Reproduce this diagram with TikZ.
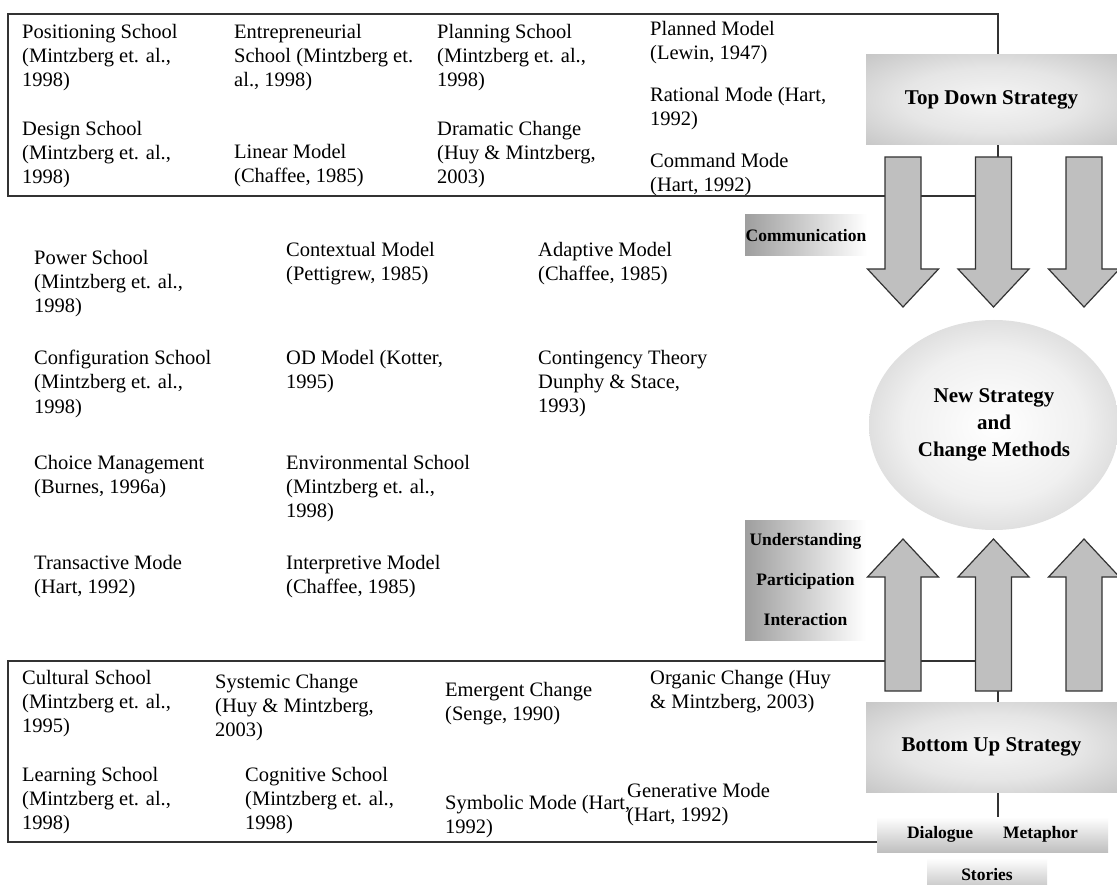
\documentclass[tikz,border=0pt]{standalone}
\usepackage{fontspec}
\setmainfont{Liberation Serif}
\usetikzlibrary{shapes.geometric}

% soft glow: light centre fading to grey at the rim
\pgfdeclareradialshading{boxglow}{\pgfpoint{0bp}{0bp}}{%
  color(0bp)=(black!4); color(18bp)=(black!10); color(50bp)=(black!32); color(72bp)=(black!36)}
\pgfdeclareradialshading{ballglow}{\pgfpoint{0bp}{0bp}}{%
  color(0bp)=(white); color(18bp)=(black!6); color(50bp)=(black!35)}

\begin{document}
\begin{tikzpicture}[x=1pt,y=-1pt,
  frame/.style={draw=black!80, line width=1.3pt},
  txt/.style={anchor=north west, inner sep=0pt, align=left,
    font=\fontsize{20.5}{24.2}\selectfont},
  headbox/.style={shading=boxglow, inner sep=0pt, minimum width=251, minimum height=90,
    font=\fontsize{21}{25}\selectfont\bfseries},
  sidebox/.style={left color=black!38, right color=white, inner sep=0pt, align=center,
    font=\fontsize{17.5}{40}\selectfont\bfseries},
  footbox/.style={top color=white, bottom color=black!25, inner sep=0pt,
    font=\fontsize{17.5}{20}\selectfont\bfseries},
  blockarrow/.style={draw=black!80, line width=1.2pt, fill=black!25, line join=miter},
  pics/downblock/.style={code={
    \draw[blockarrow] (-18,0) -- (18,0) -- (18,112) -- (35.5,112) -- (0,150)
      -- (-35.5,112) -- (-18,112) -- cycle;}},
  pics/upblock/.style={code={
    \draw[blockarrow] (0,0) -- (35.5,38) -- (18,38) -- (18,152) -- (-18,152)
      -- (-18,38) -- (-35.5,38) -- cycle;}}
]
\useasboundingbox (0,0) rectangle (1117,885);
\fill[white] (0,0) rectangle (1117,885);
\clip (0,0) rectangle (1117,885);

% ---- framed groups ----
\draw[frame] (8,14) rectangle (998,196);
\draw[frame] (8,661) rectangle (998,842);

% ---- top-down group ----
\node[txt] (pos) at (22,24) {Positioning School\\(Mintzberg et. al.,\\1998)};
\node[txt] (des) at (22,121) {Design School\\(Mintzberg et. al.,\\1998)};
\node[txt] (ent) at (234,24) {Entrepreneurial\\School (Mintzberg et.\\al., 1998)};
\node[txt] (lin) at (234,144) {Linear Model\\(Chaffee, 1985)};
\node[txt] (pla) at (437,24) {Planning School\\(Mintzberg et. al.,\\1998)};
\node[txt] (dra) at (437,121) {Dramatic Change\\(Huy \& Mintzberg,\\2003)};
\node[txt] (plm) at (650,21) {Planned Model\\(Lewin, 1947)};
\node[txt] (rat) at (650,87) {Rational Mode (Hart,\\1992)};
\node[txt] (com) at (650,153) {Command Mode\\(Hart, 1992)};

% ---- middle models ----
\node[txt] (pow) at (34,250) {Power School\\(Mintzberg et. al.,\\1998)};
\node[txt] (ctx) at (286,242) {Contextual Model\\(Pettigrew, 1985)};
\node[txt] (ada) at (538,242) {Adaptive Model\\(Chaffee, 1985)};
\node[txt] (cfg) at (34,350) {Configuration School\\(Mintzberg et. al.,\\1998)};
\node[txt] (odm) at (286,350) {OD Model (Kotter,\\1995)};
\node[txt] (con) at (538,350) {Contingency Theory\\Dunphy \& Stace,\\1993)};
\node[txt] (cho) at (34,455) {Choice Management\\(Burnes, 1996a)};
\node[txt] (env) at (286,455) {Environmental School\\(Mintzberg et. al.,\\1998)};
\node[txt] (tra) at (34,555) {Transactive Mode\\(Hart, 1992)};
\node[txt] (int) at (286,555) {Interpretive Model\\(Chaffee, 1985)};

% ---- bottom-up group ----
\node[txt] (cul) at (22,670) {Cultural School\\(Mintzberg et. al.,\\1995)};
\node[txt] (sys) at (215,674) {Systemic Change\\(Huy \& Mintzberg,\\2003)};
\node[txt] (emc) at (445,682) {Emergent Change\\(Senge, 1990)};
\node[txt] (org) at (650,670) {Organic Change (Huy\\\& Mintzberg, 2003)};
\node[txt] (lea) at (22,767) {Learning School\\(Mintzberg et. al.,\\1998)};
\node[txt] (cog) at (245,767) {Cognitive School\\(Mintzberg et. al.,\\1998)};
\node[txt] (sym) at (445,795) {Symbolic Mode (Hart,\\1992)};
\node[txt] (gen) at (627,783) {Generative Mode\\(Hart, 1992)};

% ---- strategy boxes ----
\node[headbox] (topdown) at (991.5,100) {Top Down Strategy};
\node[headbox] (bottomup) at (991.5,747) {Bottom Up Strategy};
\node[sidebox, minimum width=122, minimum height=41] (comm) at (806,235.5) {Communication};
\node[sidebox, minimum width=121, minimum height=120] (upi) at (805.5,580)
  {Understanding\\Participation\\Interaction};
\node[footbox, minimum width=231, minimum height=35] (dm) at (992.5,834.5)
  {Dialogue\hspace{30pt}Metaphor};
\node[footbox, minimum width=120, minimum height=34] (sto) at (987,875) {Stories};

% ---- block arrows ----
\pic at (903,157) {downblock};
\pic at (993.5,157) {downblock};
\pic at (1084,157) {downblock};
\pic at (903,539) {upblock};
\pic at (993.5,539) {upblock};
\pic at (1084,539) {upblock};

% ---- result ----
\node[ellipse, shading=ballglow, minimum width=250, minimum height=210, inner sep=0pt,
  align=center, font=\fontsize{21}{27}\selectfont\bfseries] (new) at (994,425)
  {New Strategy\\and\\Change Methods};
\end{tikzpicture}
\end{document}
